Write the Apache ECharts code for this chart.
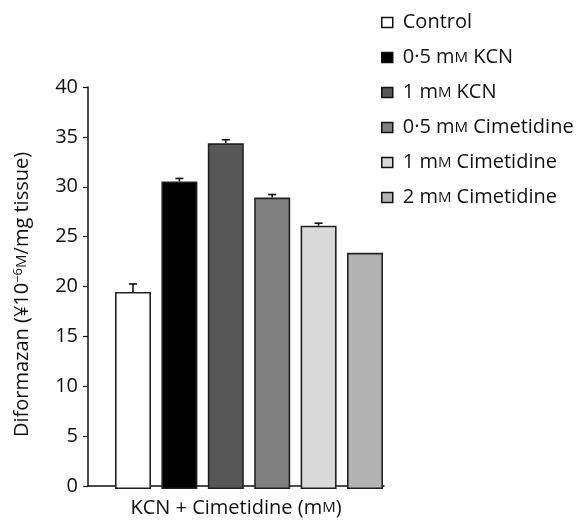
<!DOCTYPE html>
<html>
<head>
<meta charset="utf-8">
<script src="https://cdn.jsdelivr.net/npm/echarts@6/dist/echarts.min.js"></script>
<style>
html,body{margin:0;padding:0;background:#fff;}
#chart{width:583px;height:523px;}
</style>
</head>
<body>
<div id="chart"></div>
<script>
// ---- data ----
const categories = ['Control', '0·5 mM KCN', '1 mM KCN', '0·5 mM Cimetidine', '1 mM Cimetidine', '2 mM Cimetidine'];
const values = [19.6, 30.6, 34.4, 29.0, 26.2, 23.5];
const errors = [0.8, 0.3, 0.35, 0.3, 0.25, 0];
const barColors = ['#ffffff', '#000000', '#575757', '#808080', '#d9d9d9', '#b3b3b3'];
const yMin = 0, yMax = 40, yStep = 5;
const xTitle = 'KCN + Cimetidine (m{sc|M})';
const yTitle = 'Diformazan (¥10{sup|−6}{sc|M}/mg tissue)';

const FONT = 'Open Sans';
const chart = echarts.init(document.getElementById('chart'));

const barSeries = categories.map((name, i) => ({
  name: name,
  type: 'bar',
  xAxisIndex: 1,
  yAxisIndex: 1,
  stack: 'all',
  barWidth: 36,
  data: categories.map((c, j) => (j === i ? values[j] : null)),
  itemStyle: { color: barColors[i], borderColor: '#222', borderWidth: 1.6 },
  emphasis: { disabled: true },
  animation: false
}));

const errSeries = {
  type: 'custom',
  xAxisIndex: 1,
  yAxisIndex: 1,
  z: 5,
  data: categories.map((c, i) => [i, values[i], errors[i]]),
  renderItem: function (params, api) {
    const e = api.value(2);
    if (!e) return null;
    const base = api.coord([api.value(0), api.value(1)]);
    const top = api.coord([api.value(0), api.value(1) + e]);
    const st = { stroke: '#111', lineWidth: 1.6 };
    return {
      type: 'group',
      children: [
        { type: 'line', shape: { x1: base[0], y1: base[1], x2: top[0], y2: top[1] }, style: st },
        { type: 'line', shape: { x1: top[0] - 4, y1: top[1], x2: top[0] + 4, y2: top[1] }, style: st }
      ]
    };
  },
  animation: false
};

chart.setOption({
  animation: false,
  backgroundColor: '#fff',
  textStyle: { fontFamily: FONT },
  grid: [
    { left: 88, top: 87, width: 296, height: 402 },
    { left: 109.8, top: 87, width: 278.4, height: 402 }
  ],
  legend: {
    orient: 'vertical',
    left: 376,
    top: 7,
    icon: 'rect',
    itemWidth: 11,
    itemHeight: 10,
    itemGap: 14,
    data: categories,
    itemStyle: { borderColor: '#111', borderWidth: 1.5 },
    formatter: function (name) { return name.replace('mM', 'm{sc|M}'); },
    textStyle: {
      fontFamily: FONT, fontSize: 20, color: '#111', lineHeight: 21,
      padding: [0, 0, 0, 5],
      rich: { sc: { fontFamily: FONT, fontSize: 15, color: '#111' } }
    }
  },
  xAxis: [
    {
      gridIndex: 0, type: 'category', data: [''],
      axisLine: { lineStyle: { color: '#111', width: 1.5 } },
      axisTick: { show: false }, axisLabel: { show: false },
      name: xTitle, nameLocation: 'middle', nameGap: 12,
      nameTextStyle: {
        fontFamily: FONT, fontSize: 20, color: '#111',
        rich: { sc: { fontFamily: FONT, fontSize: 15, color: '#111' } }
      }
    },
    {
      gridIndex: 1, type: 'category', data: categories, show: false
    }
  ],
  yAxis: [
    {
      gridIndex: 0, type: 'value', min: yMin, max: yMax, interval: yStep,
      axisLine: { show: true, lineStyle: { color: '#111', width: 1.5 } },
      axisTick: { show: true, length: 5, lineStyle: { color: '#111', width: 1.2 } },
      splitLine: { show: false },
      axisLabel: { fontFamily: FONT, fontSize: 20, color: '#111', margin: 10 },
      name: yTitle, nameLocation: 'middle', nameRotate: 90, nameGap: 56,
      nameTextStyle: {
        fontFamily: FONT, fontSize: 20, color: '#111',
        padding: [0, 16, 0, 0],
        rich: {
          sup: { fontFamily: FONT, fontSize: 13, color: '#111', verticalAlign: 'top', lineHeight: 20 },
          sc: { fontFamily: FONT, fontSize: 15, color: '#111' }
        }
      }
    },
    {
      gridIndex: 1, type: 'value', min: yMin, max: yMax, interval: yStep, show: false
    }
  ],
  series: barSeries.concat([errSeries])
});
</script>
</body>
</html>
